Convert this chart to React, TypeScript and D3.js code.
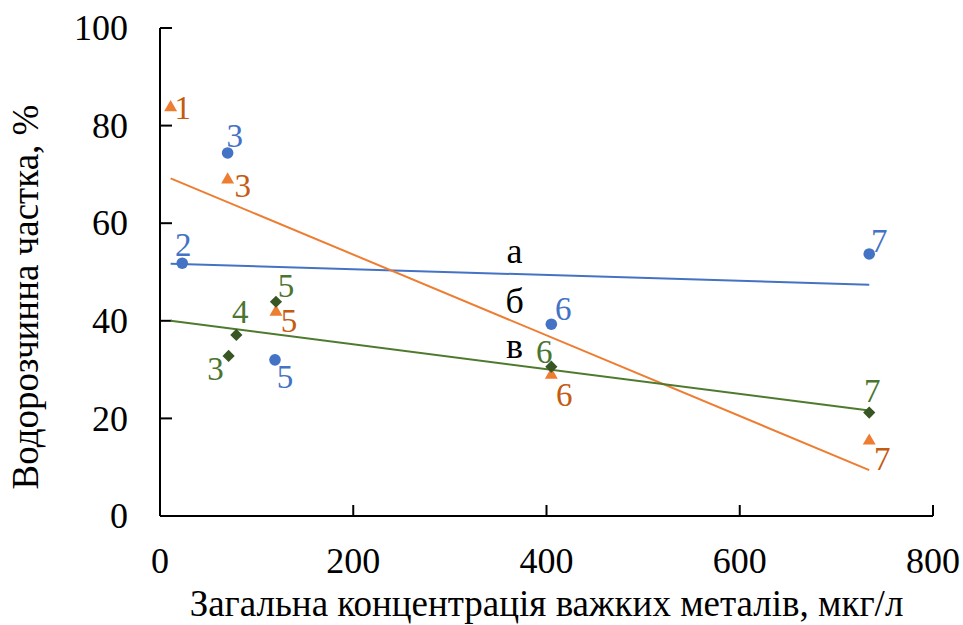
import React from "react";
import * as d3 from "d3";

// ---- data ----
const blueX = [23, 70, 119, 405, 734];
const blueY = [51.8, 74.4, 32.0, 39.3, 53.7];
const blueLabels = ["2", "3", "5", "6", "7"];

const orangeX = [11, 70, 120, 405, 734];
const orangeY = [83.7, 68.9, 41.8, 28.9, 15.4];
const orangeLabels = ["1", "3", "5", "6", "7"];

const greenX = [71, 79, 120, 405, 734];
const greenY = [32.8, 37.1, 43.9, 30.6, 21.2];
const greenLabels = ["3", "4", "5", "6", "7"];

const trendX = [11, 734];
const blueTrend = [51.7, 47.4];
const orangeTrend = [69.2, 9.4];
const greenTrend = [40.0, 21.6];

const seriesLetters = ["а", "б", "в"];
const letterX = [367, 367, 367];
const letterY = [51.8, 41.7, 32.3];

const xTicks = [0, 200, 400, 600, 800];
const yTicks = [0, 20, 40, 60, 80, 100];

const xTitle = "Загальна концентрація важких металів, мкг/л";
const yTitle = "Водорозчинна частка, %";

// label offsets (px) [dx, dy of baseline]
const blueOff: [number, number][] = [[1, -7], [7, -6], [10, 28], [12, -4], [10, -2]];
const orangeOff: [number, number][] = [[12, 11], [15, 17], [13, 20], [13, 31], [13, 29]];
const greenOff: [number, number][] = [[-13, 24], [4, -12], [10, -5], [-7, -4], [3, -11]];

const BLUE = "#4472C4";
const ORANGE = "#ED7D31";
const ORANGE_TXT = "#C55A11";
const GREEN_MK = "#375623";
const GREEN_LN = "#4E7A2E";
const GREEN_TXT = "#4A7530";

const FONT = "Liberation Serif, Times New Roman, DejaVu Serif, serif";

export default function App() {
  const W = 963, H = 625;
  const x = d3.scaleLinear().domain([0, 800]).range([160, 933]);
  const y = d3.scaleLinear().domain([0, 100]).range([516, 28]);
  const line = d3.line<number>().x((d, i) => x(trendX[i])).y((d) => y(d));

  const tri = d3.symbol().type(d3.symbolTriangle).size(72)();
  const dia = d3.symbol().type(d3.symbolDiamond2).size(95)();
  const fsTick = 36;
  const fsTitle = 37;
  const fsLab = 33;

  return (
    <svg width={W} height={H} style={{ position: "absolute", left: 0, top: 0, background: "#fff", fontFamily: FONT }}>
      {/* axes */}
      <line x1={x(0)} x2={x(800)} y1={y(0)} y2={y(0)} stroke="#000" strokeWidth={2} />
      <line x1={x(0)} x2={x(0)} y1={y(0)} y2={y(100)} stroke="#000" strokeWidth={2} />
      {xTicks.map((t) => (
        <g key={"xt" + t}>
          {t > 0 && <line x1={x(t)} x2={x(t)} y1={y(0)} y2={y(0) - 11} stroke="#000" strokeWidth={2} />}
          <text x={x(t)} y={573} fontSize={fsTick} textAnchor="middle" fill="#000">{t}</text>
        </g>
      ))}
      {yTicks.map((t) => (
        <g key={"yt" + t}>
          {t > 0 && <line x1={x(0)} x2={x(0) + 12} y1={y(t)} y2={y(t)} stroke="#000" strokeWidth={2} />}
          <text x={128} y={y(t)} dy="0.34em" fontSize={fsTick} textAnchor="end" fill="#000">{t}</text>
        </g>
      ))}
      <text x={(x(0) + x(800)) / 2} y={616} fontSize={fsTitle} textAnchor="middle" fill="#000">{xTitle}</text>
      <text transform={`translate(38,297) rotate(-90)`} fontSize={fsTitle} textAnchor="middle" fill="#000">{yTitle}</text>

      {/* trend lines */}
      <path d={line(blueTrend) || ""} fill="none" stroke={BLUE} strokeWidth={2} />
      <path d={line(orangeTrend) || ""} fill="none" stroke={ORANGE} strokeWidth={2} />
      <path d={line(greenTrend) || ""} fill="none" stroke={GREEN_LN} strokeWidth={2} />

      {/* series letters */}
      {seriesLetters.map((s, i) => (
        <text key={"sl" + i} x={x(letterX[i])} y={y(letterY[i])} fontSize={fsTick} textAnchor="middle" fill="#000">{s}</text>
      ))}

      {/* blue circles */}
      {blueX.map((v, i) => (
        <g key={"b" + i}>
          <circle cx={x(v)} cy={y(blueY[i])} r={5.8} fill={BLUE} />
          <text x={x(v) + blueOff[i][0]} y={y(blueY[i]) + blueOff[i][1]} fontSize={fsLab} textAnchor="middle" fill={BLUE}>{blueLabels[i]}</text>
        </g>
      ))}
      {/* orange triangles */}
      {orangeX.map((v, i) => (
        <g key={"o" + i}>
          <path d={tri || ""} transform={`translate(${x(v)},${y(orangeY[i])})`} fill={ORANGE} />
          <text x={x(v) + orangeOff[i][0]} y={y(orangeY[i]) + orangeOff[i][1]} fontSize={fsLab} textAnchor="middle" fill={ORANGE_TXT}>{orangeLabels[i]}</text>
        </g>
      ))}
      {/* green diamonds */}
      {greenX.map((v, i) => (
        <g key={"g" + i}>
          <path d={dia || ""} transform={`translate(${x(v)},${y(greenY[i])})`} fill={GREEN_MK} />
          <text x={x(v) + greenOff[i][0]} y={y(greenY[i]) + greenOff[i][1]} fontSize={fsLab} textAnchor="middle" fill={GREEN_TXT}>{greenLabels[i]}</text>
        </g>
      ))}
    </svg>
  );
}
